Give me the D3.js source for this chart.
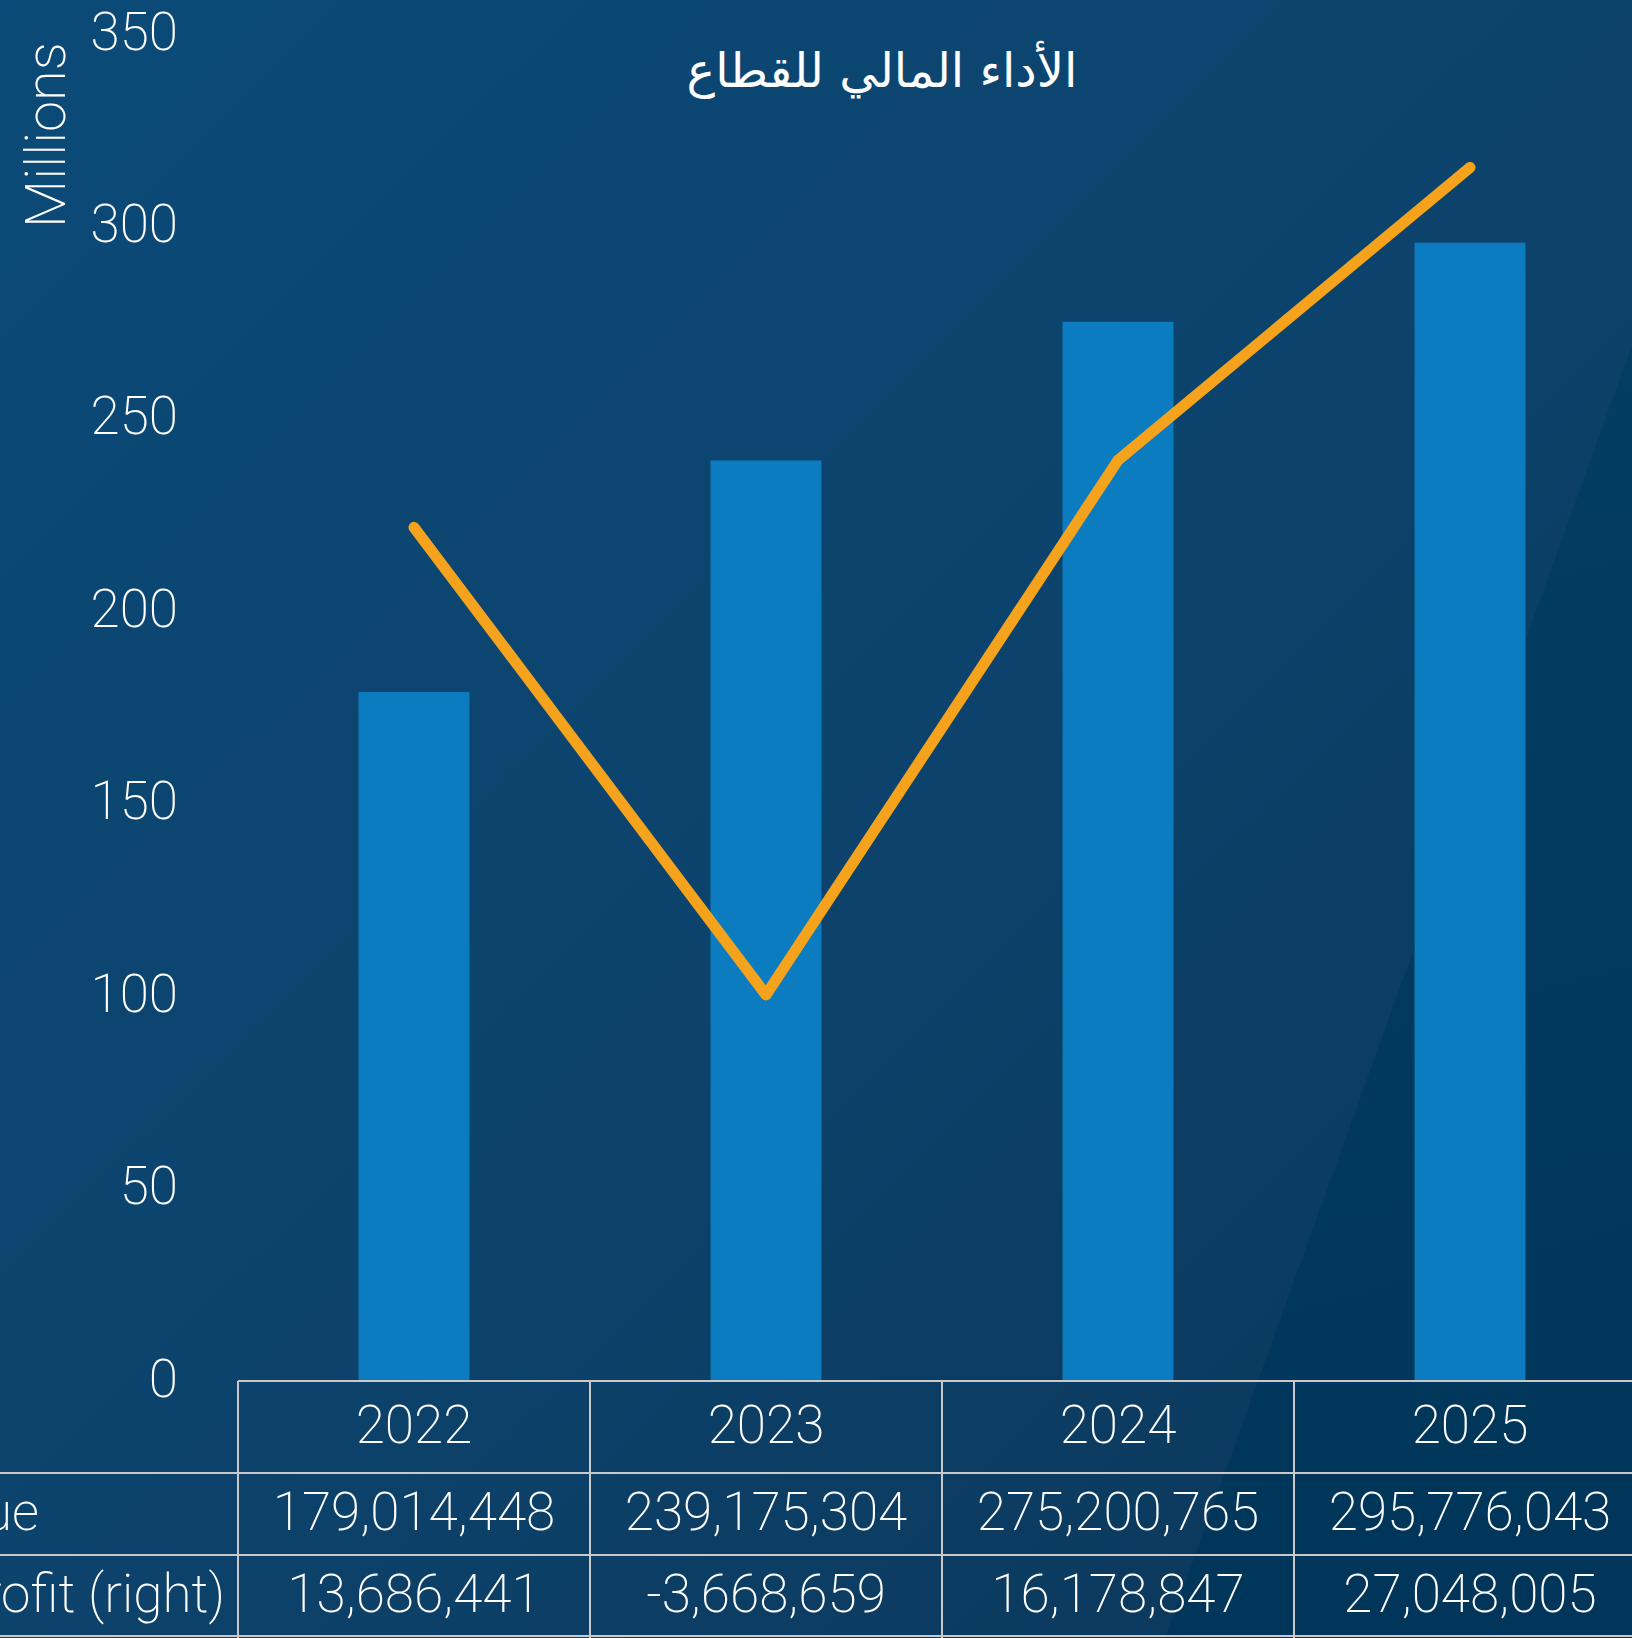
<!DOCTYPE html>
<html>
<head>
<meta charset="utf-8">
<script src="https://cdn.jsdelivr.net/npm/d3@7"></script>
<style>
  html, body { margin: 0; padding: 0; background: #0b4470; overflow: hidden; }
  svg { display: block; }
  text { font-family: Roboto, 'Open Sans', sans-serif; font-weight: 200; fill: #ffffff; }
  .title { font-family: 'DejaVu Sans', 'Noto Sans', sans-serif; font-weight: 400; }
</style>
</head>
<body>
<div id="chart"></div>
<script>
// data
const years = ['2022', '2023', '2024', '2025']
const revenue = [179014448, 239175304, 275200765, 295776043]
const netProfit = [13686441, -3668659, 16178847, 27048005]
const rowLabels = ['Revenue', 'Net Profit (right)']
const leftTicks = [0, 50, 100, 150, 200, 250, 300, 350]
const title = 'الأداء المالي للقطاع'
const axisTitle = 'Millions'

// dimension stuff
const width = 1632
const height = 1638
const tableLeft = 238
const colWidth = 352
const plotTop = 34
const plotBottom = 1381
const rowLines = [1381, 1473, 1555, 1636]
const labelEnds = [39, 225]
const fontSize = 53

// colors
const barColor = '#0c7cc0'
const lineColor = '#f5a31c'
const gridColor = '#c9c9c9'

const $svg = d3.select('#chart').append('svg')
  .attr('width', width)
  .attr('height', height)

// background
const defs = $svg.append('defs')
const bg = defs.append('linearGradient')
  .attr('id', 'bg')
  .attr('gradientUnits', 'userSpaceOnUse')
  .attr('x1', 0).attr('y1', 0).attr('x2', width).attr('y2', height)
bg.append('stop').attr('offset', 0).attr('stop-color', '#0b4a78')
bg.append('stop').attr('offset', 0.5).attr('stop-color', '#0c436c')
bg.append('stop').attr('offset', 1).attr('stop-color', '#0c3659')

const facet = defs.append('linearGradient')
  .attr('id', 'facet')
  .attr('gradientUnits', 'userSpaceOnUse')
  .attr('x1', 1300).attr('y1', 400).attr('x2', width).attr('y2', height)
facet.append('stop').attr('offset', 0).attr('stop-color', '#023d62')
facet.append('stop').attr('offset', 1).attr('stop-color', '#01355a')

$svg.append('rect')
  .attr('width', width)
  .attr('height', height)
  .attr('fill', 'url(#bg)')

$svg.append('path')
  .attr('d', `M${width},345 L${width},${height} L1165,${height} Z`)
  .attr('fill', 'url(#facet)')

// scales
const scaleCol = d3.scaleBand()
  .domain(years)
  .range([tableLeft, tableLeft + colWidth * years.length])

const scaleX = d3.scaleBand()
  .domain(years)
  .range([tableLeft, tableLeft + colWidth * years.length])
  .paddingInner(0.685)
  .paddingOuter(0.3425)

const scaleY = d3.scaleLinear()
  .domain([0, 350])
  .range([plotBottom, plotTop])

const scaleY2 = d3.scaleLinear()
  .domain([-18, 32])
  .range([plotBottom, plotTop])

// bars
const $bars = $svg.append('g').attr('class', 'g-bars')
$bars.selectAll('.bar')
  .data(years)
  .enter()
  .append('rect')
  .attr('class', 'bar')
  .attr('x', d => scaleX(d))
  .attr('width', scaleX.bandwidth())
  .attr('y', (d, i) => scaleY(revenue[i] / 1e6))
  .attr('height', (d, i) => scaleY(0) - scaleY(revenue[i] / 1e6))
  .attr('fill', barColor)

// profit line
const line = d3.line()
  .x((d, i) => scaleCol(years[i]) + scaleCol.bandwidth() / 2)
  .y(d => scaleY2(d / 1e6))

$svg.append('path')
  .datum(netProfit)
  .attr('d', line)
  .attr('fill', 'none')
  .attr('stroke', lineColor)
  .attr('stroke-width', 11)
  .attr('stroke-linejoin', 'round')
  .attr('stroke-linecap', 'round')

// left axis
const $axis = $svg.append('g')
  .attr('class', 'g-axis')
  .attr('transform', 'translate(191, 0)')
  .call(d3.axisLeft(scaleY)
    .tickValues(leftTicks)
    .tickSize(0)
    .tickPadding(13))

$axis.select('.domain').remove()
$axis.selectAll('text')
  .attr('fill', '#ffffff')
  .attr('dy', null)
  .attr('y', 15)
  .style('font-family', 'Roboto, sans-serif')
  .style('font-weight', 200)
  .style('font-size', `${fontSize}px`)

$svg.append('text')
  .text(axisTitle)
  .attr('transform', 'translate(65, 135) rotate(-90)')
  .attr('text-anchor', 'middle')
  .style('font-size', `${fontSize + 3}px`)

// title
$svg.append('text')
  .attr('class', 'title')
  .text(title)
  .attr('x', 882)
  .attr('y', 87)
  .attr('text-anchor', 'middle')
  .attr('direction', 'rtl')
  .style('font-size', '48px')

// data table
const $table = $svg.append('g').attr('class', 'g-table')

$table.selectAll('.hline')
  .data(rowLines)
  .enter()
  .append('line')
  .attr('class', 'hline')
  .attr('x1', (d, i) => i === 0 ? tableLeft : -10)
  .attr('x2', width + 10)
  .attr('y1', d => d)
  .attr('y2', d => d)
  .attr('stroke', gridColor)
  .attr('stroke-width', 2)

$table.selectAll('.vline')
  .data(years)
  .enter()
  .append('line')
  .attr('class', 'vline')
  .attr('x1', d => scaleCol(d))
  .attr('x2', d => scaleCol(d))
  .attr('y1', rowLines[0])
  .attr('y2', height + 5)
  .attr('stroke', gridColor)
  .attr('stroke-width', 2)

const fmt = d3.format(',')
const rows = [years, revenue.map(fmt), netProfit.map(d => fmt(d).replace('−', '-'))]

rows.forEach((row, r) => {
  const mid = (rowLines[r] + rowLines[r + 1]) / 2
  $table.selectAll(`.cell-${r}`)
    .data(row)
    .enter()
    .append('text')
    .attr('class', `cell-${r}`)
    .text(d => d)
    .attr('x', (d, i) => scaleCol(years[i]) + scaleCol.bandwidth() / 2)
    .attr('y', mid + 16)
    .attr('text-anchor', 'middle')
    .style('font-size', `${fontSize}px`)
})

// row labels run off the left edge, as in the source
$table.selectAll('.row-label')
  .data(rowLabels)
  .enter()
  .append('text')
  .attr('class', 'row-label')
  .text(d => d)
  .attr('x', (d, i) => labelEnds[i])
  .attr('y', (d, i) => (rowLines[i + 1] + rowLines[i + 2]) / 2 + 16)
  .attr('text-anchor', 'end')
  .style('font-size', `${fontSize}px`)
</script>
</body>
</html>
